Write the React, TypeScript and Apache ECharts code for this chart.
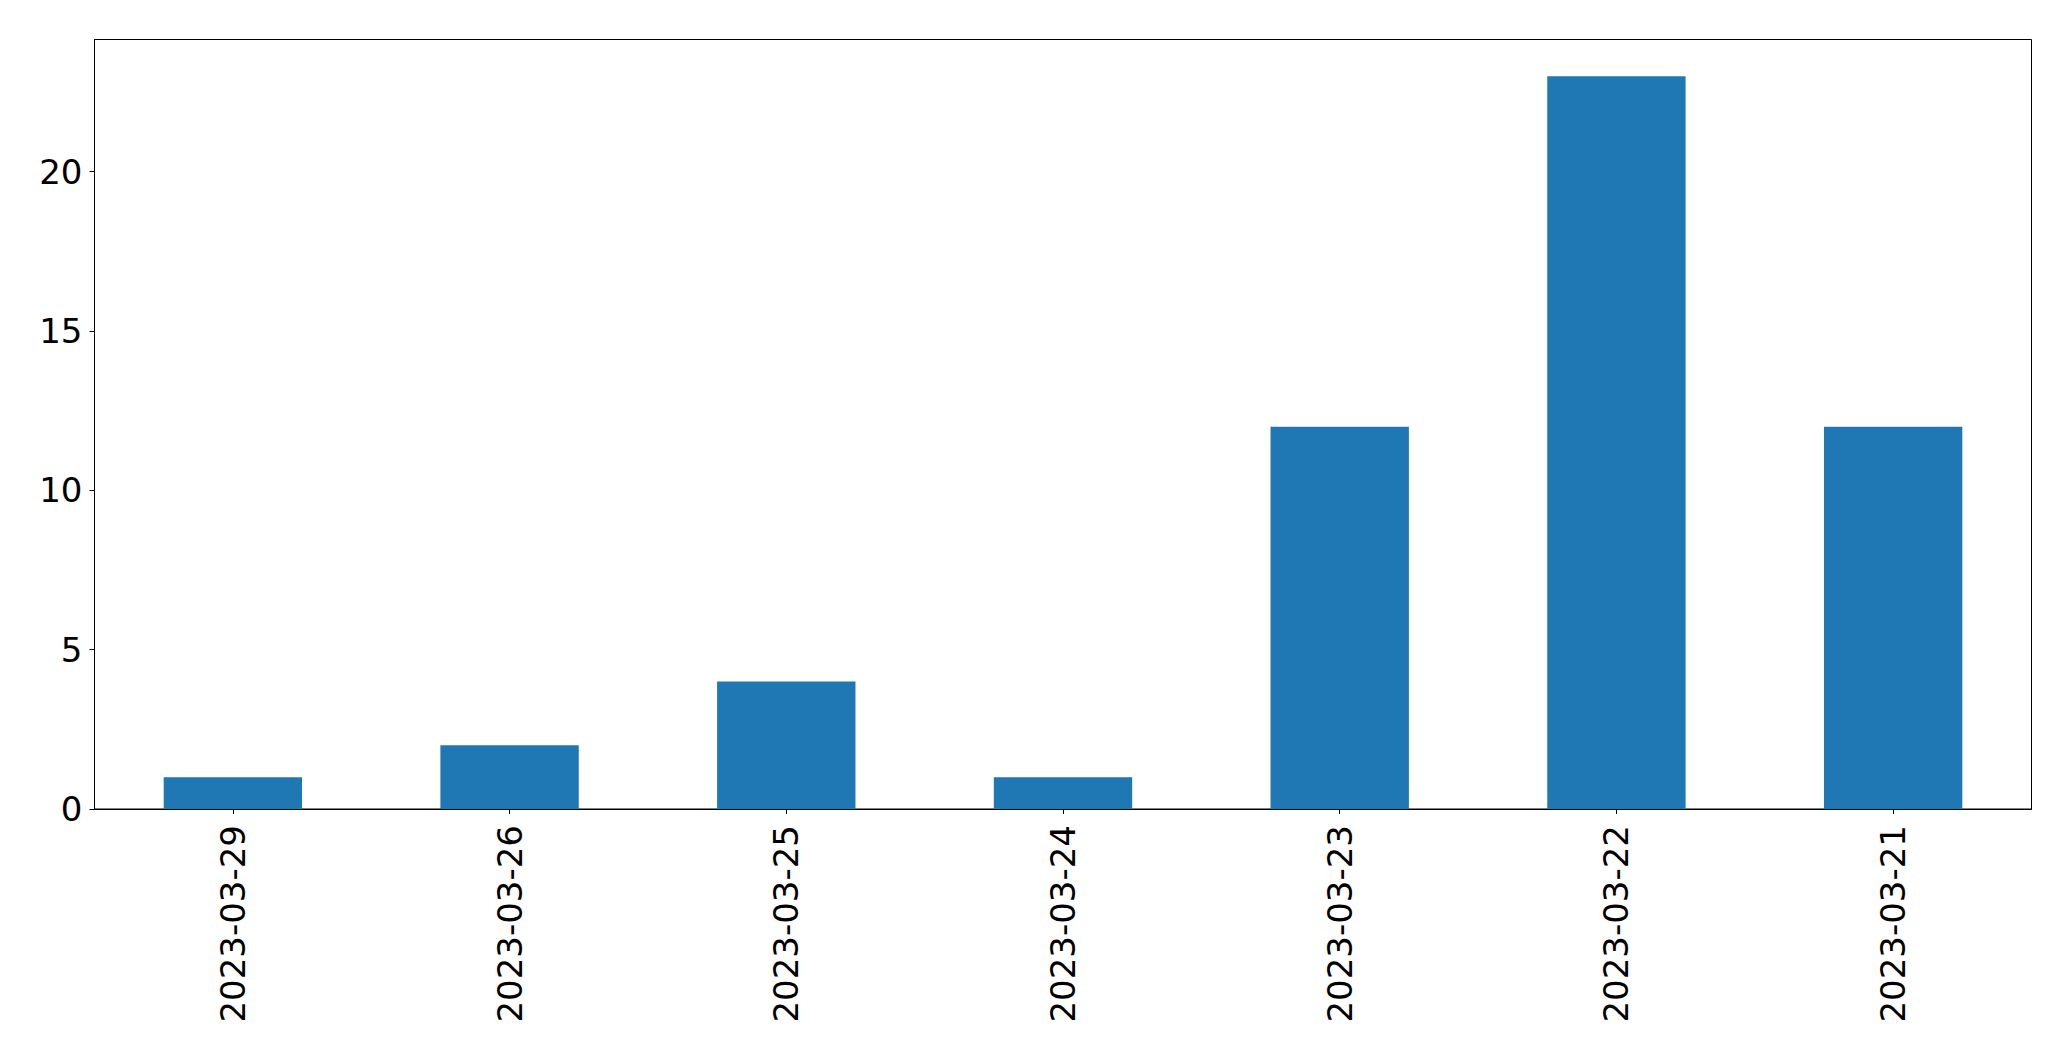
import React, { useEffect, useRef } from "react";
import * as echarts from "echarts";

const categories = [
  "2023-03-29",
  "2023-03-26",
  "2023-03-25",
  "2023-03-24",
  "2023-03-23",
  "2023-03-22",
  "2023-03-21",
];
const values = [1, 2, 4, 1, 12, 23, 12];
const yTicks = [0, 5, 10, 15, 20];
const yMax = 24.15;

export default function App() {
  const ref = useRef<HTMLDivElement>(null);
  useEffect(() => {
    if (!ref.current) return;
    const chart = echarts.init(ref.current, undefined, { renderer: "svg" });
    const font = "DejaVu Sans";
    chart.setOption({
      animation: false,
      backgroundColor: "#ffffff",
      grid: {
        left: 94.5,
        top: 39.5,
        right: 39.5,
        bottom: 252,
        show: true,
        borderColor: "#000000",
        borderWidth: 1,
        backgroundColor: "transparent",
      },
      xAxis: {
        type: "category",
        data: categories,
        axisLine: { show: true, lineStyle: { color: "#000000", width: 1 } },
        axisTick: { show: true, alignWithLabel: true, length: 5, lineStyle: { color: "#000000" } },
        axisLabel: {
          rotate: 90,
          margin: 16,
          fontFamily: font,
          fontSize: 34,
          color: "#000000",
          interval: 0,
        },
        splitLine: { show: false },
      },
      yAxis: {
        type: "value",
        min: 0,
        max: yMax,
        interval: 5,
        axisLine: { show: true, lineStyle: { color: "#000000", width: 1 } },
        axisTick: { show: true, length: 5, lineStyle: { color: "#000000" }, customValues: yTicks },
        axisLabel: {
          margin: 12,
          fontFamily: font,
          fontSize: 34,
          color: "#000000",
          customValues: yTicks,
        },
        splitLine: { show: false },
      },
      series: [
        {
          type: "bar",
          data: values,
          barWidth: "50%",
          itemStyle: { color: "#1f77b4" },
        },
      ],
    });
    return () => chart.dispose();
  }, []);
  return (
    <div
      ref={ref}
      style={{ position: "fixed", left: 0, top: 0, width: 2071, height: 1061 }}
    />
  );
}
